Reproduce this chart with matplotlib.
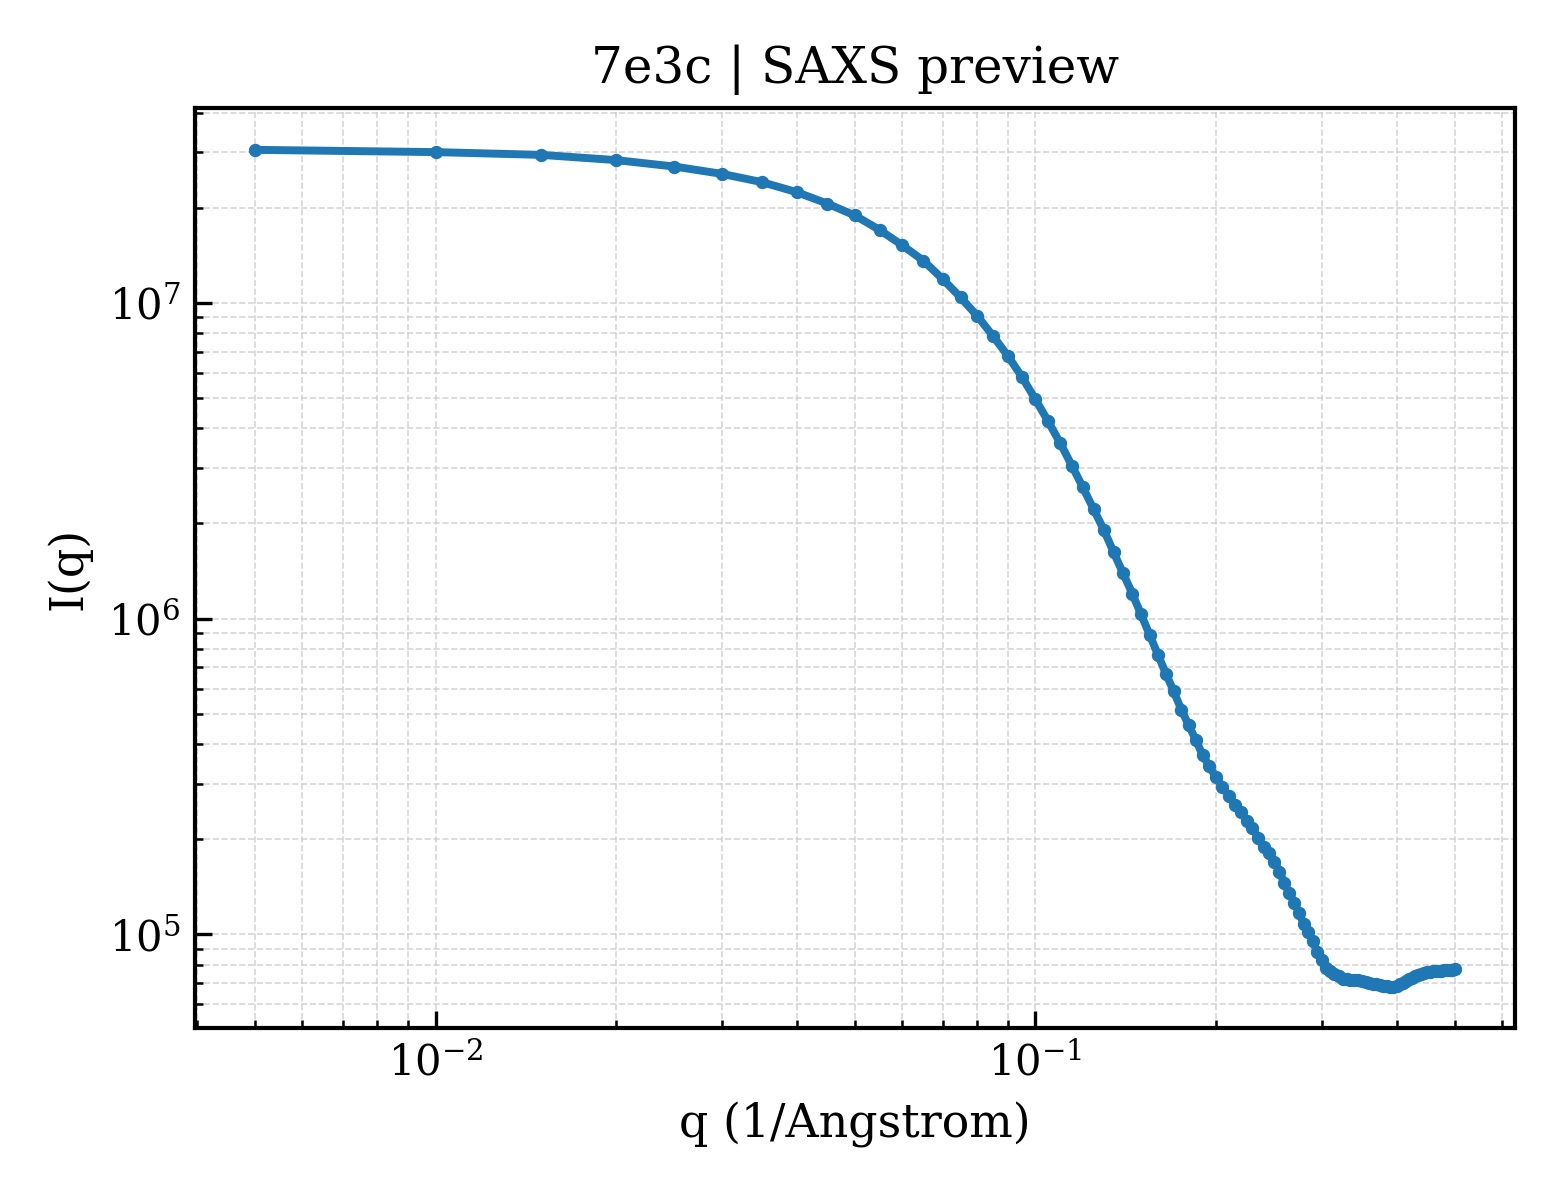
import matplotlib
matplotlib.use("Agg")
import matplotlib.pyplot as plt
import numpy as np

q = np.array([
    0.005, 0.010, 0.015, 0.020, 0.025, 0.030, 0.035, 0.040, 0.045, 0.050,
    0.055, 0.060, 0.065, 0.070, 0.075, 0.080, 0.085, 0.090, 0.095, 0.100,
    0.105, 0.110, 0.115, 0.120, 0.125, 0.130, 0.135, 0.140, 0.145, 0.150,
    0.155, 0.160, 0.165, 0.170, 0.175, 0.180, 0.185, 0.190, 0.195, 0.200,
    0.205, 0.210, 0.215, 0.220, 0.225, 0.230, 0.235, 0.240, 0.245, 0.250,
    0.255, 0.260, 0.265, 0.270, 0.275, 0.280, 0.285, 0.290, 0.295, 0.300,
    0.305, 0.310, 0.315, 0.320, 0.325, 0.330, 0.335, 0.340, 0.345, 0.350,
    0.355, 0.360, 0.365, 0.370, 0.375, 0.380, 0.385, 0.390, 0.395, 0.400,
    0.405, 0.410, 0.415, 0.420, 0.425, 0.430, 0.435, 0.440, 0.445, 0.450,
    0.455, 0.460, 0.465, 0.470, 0.475, 0.480, 0.485, 0.490, 0.495, 0.500,
])

intensity = np.array([
    3.05e7, 3.00e7, 2.94e7, 2.83e7, 2.70e7, 2.56e7, 2.41e7, 2.24e7, 2.06e7, 1.89e7,
    1.70e7, 1.52e7, 1.36e7, 1.19e7, 1.04e7, 9.08e6, 7.84e6, 6.78e6, 5.81e6, 4.94e6,
    4.21e6, 3.59e6, 3.05e6, 2.60e6, 2.22e6, 1.91e6, 1.62e6, 1.39e6, 1.20e6, 1.03e6,
    8.88e5, 7.68e5, 6.69e5, 5.88e5, 5.15e5, 4.60e5, 4.13e5, 3.69e5, 3.40e5, 3.14e5,
    2.92e5, 2.75e5, 2.57e5, 2.44e5, 2.29e5, 2.17e5, 2.02e5, 1.89e5, 1.81e5, 1.70e5,
    1.58e5, 1.45e5, 1.35e5, 1.26e5, 1.17e5, 1.08e5, 1.02e5, 9.50e4, 8.77e4, 8.27e4,
    7.84e4, 7.63e4, 7.49e4, 7.36e4, 7.23e4, 7.20e4, 7.18e4, 7.17e4, 7.15e4, 7.12e4,
    7.07e4, 7.02e4, 6.97e4, 6.94e4, 6.89e4, 6.87e4, 6.84e4, 6.83e4, 6.83e4, 6.87e4,
    6.94e4, 7.02e4, 7.11e4, 7.20e4, 7.29e4, 7.36e4, 7.43e4, 7.51e4, 7.56e4, 7.58e4,
    7.61e4, 7.63e4, 7.65e4, 7.66e4, 7.67e4, 7.68e4, 7.69e4, 7.70e4, 7.72e4, 7.75e4,
])

title = "7e3c | SAXS preview"

plt.rcParams.update({
    "font.family": "DejaVu Serif",
    "font.size": 10,
    "xtick.direction": "in",
    "ytick.direction": "in",
    "xtick.major.size": 4,
    "ytick.major.size": 4,
    "xtick.minor.size": 2,
    "ytick.minor.size": 2,
    "axes.linewidth": 1.0,
})

fig, ax = plt.subplots(figsize=(5.2, 4.0), dpi=300)
ax.loglog(q, intensity, marker="o", markersize=2.2, linewidth=1.9, color="#1f77b4")
ax.set_xlabel("q (1/Angstrom)", fontsize=11)
ax.set_ylabel("I(q)", fontsize=11)
ax.set_title(title, fontsize=12)
ax.grid(True, which="both", linestyle="--", linewidth=0.4, color="#cccccc", alpha=0.8)
fig.subplots_adjust(left=0.125, right=0.971, top=0.91, bottom=0.143)
fig.savefig("out.png", dpi=300)
